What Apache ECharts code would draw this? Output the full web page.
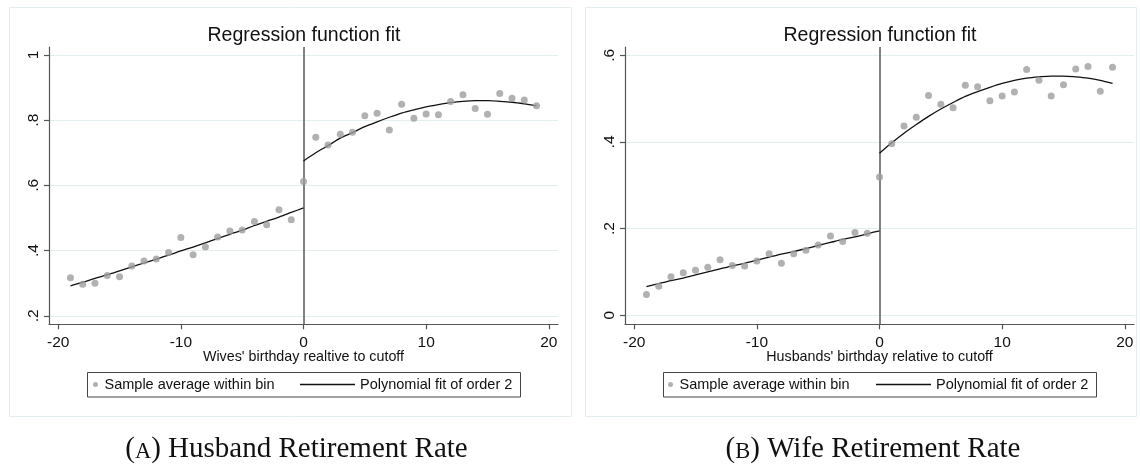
<!DOCTYPE html>
<html><head><meta charset="utf-8">
<script src="https://cdn.jsdelivr.net/npm/echarts@6/dist/echarts.min.js"></script>
<style>html,body{margin:0;padding:0;background:#fff}#c{width:1140px;height:464px}</style>
</head><body><div id="c"></div>
<script>
// ---- data ----
const bins = [-19,-18,-17,-16,-15,-14,-13,-12,-11,-10,-9,-8,-7,-6,-5,-4,-3,-2,-1,0,1,2,3,4,5,6,7,8,9,10,11,12,13,14,15,16,17,18,19];
const husbandBinAvg = [0.317,0.297,0.300,0.324,0.320,0.353,0.368,0.374,0.394,0.440,0.387,0.411,0.442,0.460,0.463,0.489,0.479,0.525,0.495,0.612,
  0.748,0.724,0.757,0.763,0.814,0.821,0.770,0.849,0.806,0.819,0.817,0.857,0.878,0.836,0.818,0.882,0.867,0.862,0.844];
const wifeBinAvg = [0.048,0.067,0.089,0.098,0.104,0.111,0.128,0.115,0.114,0.125,0.142,0.120,0.142,0.150,0.162,0.183,0.170,0.191,0.189,0.319,
  0.396,0.437,0.457,0.507,0.487,0.479,0.531,0.527,0.495,0.506,0.515,0.567,0.542,0.506,0.532,0.568,0.574,0.517,0.572];
const fitLeftX = [-19,-18,-17,-16,-15,-14,-13,-12,-11,-10,-9,-8,-7,-6,-5,-4,-3,-2,-1,0];
const fitRightX = [0,1,2,3,4,5,6,7,8,9,10,11,12,13,14,15,16,17,18,19];
const husbandFitLeft = [0.292,0.303,0.315,0.326,0.338,0.350,0.362,0.374,0.386,0.399,0.411,0.424,0.437,0.450,0.463,0.477,0.490,0.503,0.517,0.531];
const husbandFitRight = [0.675,0.700,0.722,0.745,0.762,0.780,0.795,0.809,0.822,0.832,0.841,0.848,0.854,0.858,0.860,0.860,0.858,0.855,0.850,0.844];
const wifeFitLeft = [0.066,0.073,0.080,0.086,0.093,0.100,0.107,0.114,0.120,0.127,0.134,0.141,0.147,0.154,0.161,0.168,0.175,0.181,0.188,0.195];
const wifeFitRight = [0.374,0.398,0.420,0.440,0.459,0.476,0.491,0.505,0.516,0.526,0.535,0.542,0.547,0.550,0.552,0.552,0.550,0.547,0.542,0.535];
const xTicks = [-20,-10,0,10,20];
const yTicksA = [0.2,0.4,0.6,0.8,1];
const yTickLabelsA = ['.2','.4','.6','.8','1'];
const yTicksB = [0,0.2,0.4,0.6];
const yTickLabelsB = ['0','.2','.4','.6'];
const panelTitle = 'Regression function fit';
const xNameA = "Wives' birthday realtive to cutoff";
const xNameB = "Husbands' birthday relative to cutoff";
const nameDots = 'Sample average within bin';
const nameFit = 'Polynomial fit of order 2';

// ---- chart ----
const FONT = "'Liberation Sans', Arial, sans-serif";
const SERIF = "'Liberation Serif', 'Times New Roman', serif";
const AX = '#555';
const chart = echarts.init(document.getElementById('c'), null, {renderer:'canvas'});
const pairs = (xs, ys) => xs.map((x, i) => [x, ys[i]]);
const labelFor = (ticks, labels) => v => {
  for (let i = 0; i < ticks.length; i++) if (Math.abs(ticks[i] - v) < 1e-9) return labels[i];
  return '';
};

function xAxis(gi, name) {
  return {
    gridIndex: gi, type: 'value', min: -20.75, max: 20.75,
    axisLine: {show: true, onZero: false, lineStyle: {color: AX, width: 1.2}},
    axisTick: {show: true, length: 5, customValues: xTicks, lineStyle: {color: AX, width: 1.2}},
    axisLabel: {customValues: xTicks, margin: 10, fontSize: 15.5, color: '#111', fontFamily: FONT},
    splitLine: {show: false},
    name: name, nameLocation: 'middle', nameGap: 26, nameMoveOverlap: false,
    nameTextStyle: {fontSize: 14.3, color: '#111', fontFamily: FONT}
  };
}
function yAxis(gi, min, max, ticks, labels) {
  return {
    gridIndex: gi, type: 'value', min: min, max: max,
    axisLine: {show: true, onZero: false, lineStyle: {color: AX, width: 1.2}},
    axisTick: {show: true, length: 5, customValues: ticks, lineStyle: {color: AX, width: 1.2}},
    axisLabel: {customValues: ticks, rotate: 90, margin: 7, fontSize: 15.5, color: '#111', fontFamily: FONT,
      formatter: labelFor(ticks, labels)},
    splitLine: {show: true, lineStyle: {color: '#e4eef0', width: 1}}
  };
}
function dots(gi, ys) {
  return {
    name: nameDots, type: 'scatter', xAxisIndex: gi, yAxisIndex: gi,
    data: pairs(bins, ys), symbol: 'circle', symbolSize: 7,
    itemStyle: {color: '#9d9d9d'}, z: 5,
    markLine: {silent: true, symbol: ['none', 'none'], label: {show: false}, animation: false, z: 1,
      lineStyle: {color: '#6c6c6c', width: 1.7, type: 'solid'}, data: [{xAxis: 0}]}
  };
}
function fit(gi, xs, ys) {
  return {
    name: nameFit, type: 'line', xAxisIndex: gi, yAxisIndex: gi,
    data: pairs(xs, ys), symbol: 'none', showSymbol: false, smooth: 0.3, z: 4,
    lineStyle: {color: '#111', width: 1.3}, itemStyle: {color: '#111'}
  };
}
function legend(left, which, w, h, icon) {
  return {
    left: left, top: 377, padding: 0, itemWidth: w, itemHeight: h, itemGap: 0,
    data: [{name: which, icon: icon}], selectedMode: false,
    itemStyle: {borderWidth: 0},
    lineStyle: {width: 0},
    textStyle: {fontSize: 14.5, color: '#111', fontFamily: FONT}
  };
}
function caption(left, letter, rest) {
  return {
    text: '{p|(}{s|' + letter + '}{p|) ' + rest + '}',
    left: left, top: 435, textAlign: 'center', padding: 0,
    textStyle: {fontWeight: 'normal', rich: {
      p: {fontSize: 29, fontFamily: SERIF, fontWeight: 'normal', color: '#111', verticalAlign: 'bottom'},
      s: {fontSize: 22.5, fontFamily: SERIF, fontWeight: 'normal', color: '#111', verticalAlign: 'bottom'}
    }}
  };
}
const titleStyle = {fontSize: 19.5, fontWeight: 'normal', color: '#111', fontFamily: FONT};

chart.setOption({
  animation: false,
  backgroundColor: '#fff',
  title: [
    {text: panelTitle, left: 304, top: 26, textAlign: 'center', padding: 0, textStyle: titleStyle},
    {text: panelTitle, left: 880, top: 26, textAlign: 'center', padding: 0, textStyle: titleStyle},
    caption(296.5, 'A', 'Husband Retirement Rate'),
    caption(873, 'B', 'Wife Retirement Rate')
  ],
  grid: [
    {left: 49, top: 47, width: 509, height: 277.3},
    {left: 625, top: 47, width: 509, height: 277.3}
  ],
  xAxis: [xAxis(0, xNameA), xAxis(1, xNameB)],
  yAxis: [yAxis(0, 0.174, 1.0245, yTicksA, yTickLabelsA), yAxis(1, -0.0208, 0.619, yTicksB, yTickLabelsB)],
  legend: [
    legend(93, nameDots, 8, 5, 'circle'),
    legend(300, nameFit, 55, 1.3, 'rect'),
    legend(668, nameDots, 8, 5, 'circle'),
    legend(876, nameFit, 55, 1.3, 'rect')
  ],
  graphic: [
    {type: 'rect', shape: {x: 9.5, y: 7.5, width: 562, height: 409}, style: {fill: null, stroke: '#e3ecee', lineWidth: 1}, silent: true, z: -1},
    {type: 'rect', shape: {x: 585.5, y: 7.5, width: 551, height: 409}, style: {fill: null, stroke: '#e3ecee', lineWidth: 1}, silent: true, z: -1},
    {type: 'rect', shape: {x: 87.5, y: 372.5, width: 433, height: 24.5}, style: {fill: null, stroke: '#444', lineWidth: 1}, silent: true},
    {type: 'rect', shape: {x: 663.5, y: 372.5, width: 433, height: 24.5}, style: {fill: null, stroke: '#444', lineWidth: 1}, silent: true}
  ],
  series: [
    dots(0, husbandBinAvg),
    fit(0, fitLeftX, husbandFitLeft),
    fit(0, fitRightX, husbandFitRight),
    dots(1, wifeBinAvg),
    fit(1, fitLeftX, wifeFitLeft),
    fit(1, fitRightX, wifeFitRight)
  ]
});
</script>
</body></html>
